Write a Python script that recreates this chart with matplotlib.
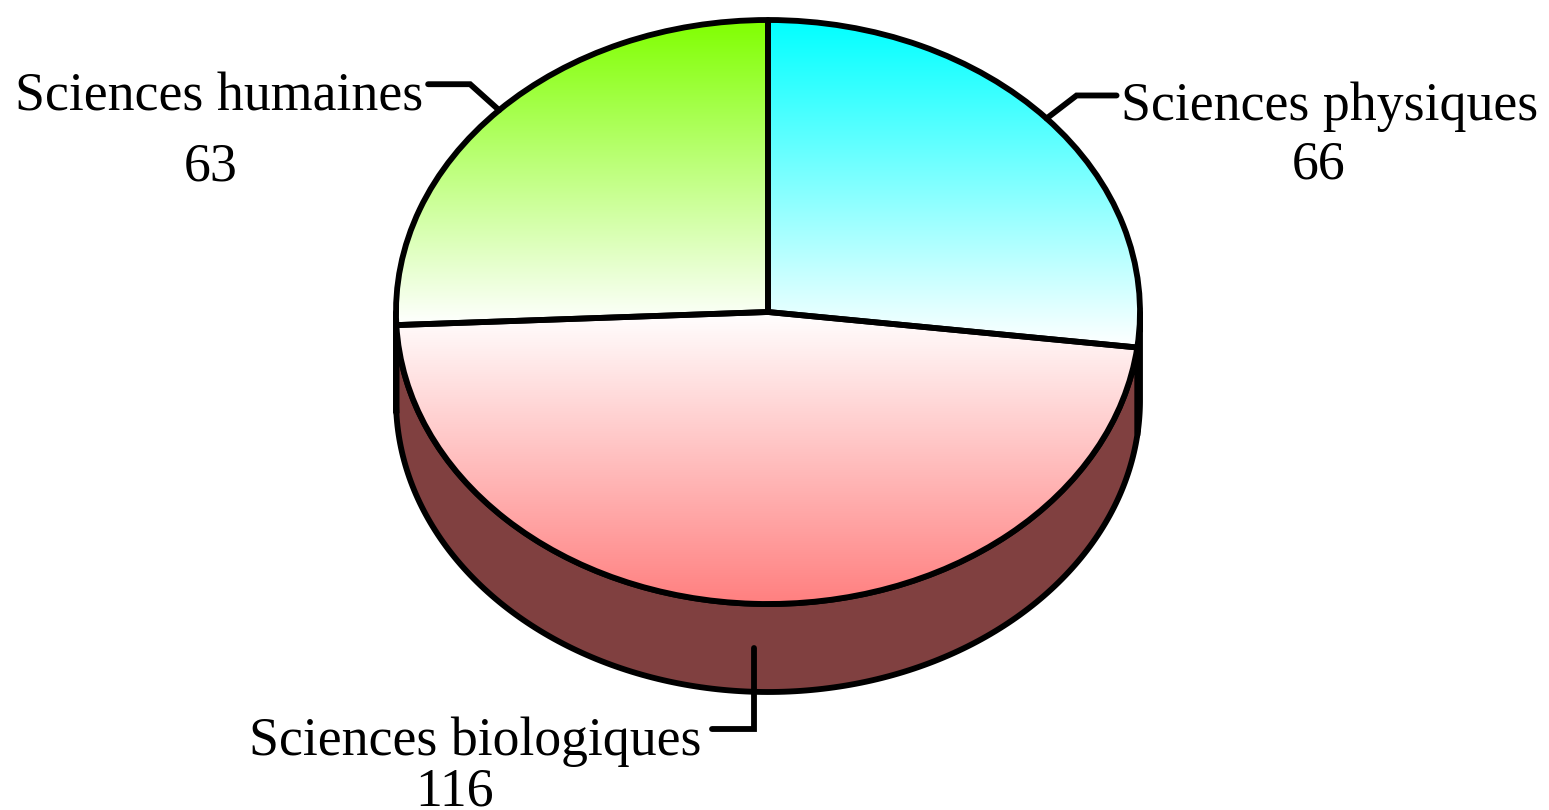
import matplotlib
matplotlib.use("Agg")
import matplotlib.pyplot as plt
import numpy as np
from matplotlib.patches import Wedge, Polygon

# data
categories = ['Sciences physiques', 'Sciences biologiques', 'Sciences humaines']
values = [66, 116, 63]
top_colors = [(0.0, 1.0, 1.0), (1.0, 1.0, 1.0), (0.5, 1.0, 0.0)]
bottom_colors = [(1.0, 1.0, 1.0), (1.0, 0.5, 0.5), (1.0, 1.0, 1.0)]
side_colors = [(0.0, 0.5, 0.5), (0.5, 0.25, 0.25), (0.25, 0.5, 0.0)]

W, H = 1549, 810
cx, cy, rx, ry = 768, 312, 372, 292   # pie centre / radii in pixels
depth = 88 / ry
LW = 4.2
FS = 38.7
FONT = 'Liberation Serif'

fig = plt.figure(figsize=(W / 100, H / 100), dpi=100)
ax = fig.add_axes([0, 0, 1, 1])
ax.set_xlim(-cx / rx, (W - cx) / rx)
ax.set_ylim(-(H - cy) / ry, cy / ry)
ax.axis('off')


def px(x, y):
    # pixel -> data units of the unit pie
    return (x - cx) / rx, (cy - y) / ry


total = float(sum(values))
ends = 90 - np.cumsum(values) / total * 360
starts = np.concatenate([[90], ends[:-1]])

# side band (only the front half is visible)
for i in range(len(values)):
    a = max(ends[i], -180)
    b = min(starts[i], 0)
    if b <= a:
        continue
    t = np.radians(np.linspace(a, b, 200))
    top = np.column_stack([np.cos(t), np.sin(t)])
    bot = np.column_stack([np.cos(t), np.sin(t) - depth])[::-1]
    ax.add_patch(Polygon(np.vstack([top, bot]), closed=True, facecolor=side_colors[i],
                         edgecolor='black', lw=LW, joinstyle='round', zorder=1))

# top face with vertical gradients
for i in range(len(values)):
    w = Wedge((0, 0), 1, ends[i], starts[i], facecolor='none', edgecolor='black',
              lw=LW, joinstyle='round', zorder=3)
    ax.add_patch(w)
    t = np.radians(np.linspace(ends[i], starts[i], 400))
    xs = np.concatenate([np.cos(t), [0]])
    ys = np.concatenate([np.sin(t), [0]])
    k = np.linspace(0, 1, 256)[:, None]
    grad = (1 - k) * np.array(top_colors[i]) + k * np.array(bottom_colors[i])
    img = np.repeat(grad[:, None, :], 2, axis=1)
    im = ax.imshow(img, extent=(xs.min(), xs.max(), ys.min(), ys.max()),
                   origin='upper', aspect='auto', interpolation='bilinear', zorder=2)
    im.set_clip_path(w)

# leader lines and labels
mid = np.radians((starts + ends) / 2)
# (elbow dx, dy, end dx) in pixels from the anchor, label centre x / baseline y, value centre x / baseline y
layout = [
    dict(elbow=(30, -23), end=70, name=(1330, 120), val=(1319, 178)),
    dict(elbow=(0, 81), end=-42, name=(475, 755), val=(455, 806)),
    dict(elbow=(-29, -26), end=-71, name=(219, 110), val=(211, 180)),
]
for i, lay in enumerate(layout):
    axp = cx + rx * np.cos(mid[i])
    ayp = cy - ry * np.sin(mid[i])
    if np.sin(mid[i]) < -0.9:
        ayp += depth * ry / 2
    ex, ey = axp + lay['elbow'][0], ayp + lay['elbow'][1]
    pts = [px(axp, ayp), px(ex, ey), px(axp + lay['end'], ey)]
    ax.plot([p[0] for p in pts], [p[1] for p in pts], color='black', lw=LW,
            solid_joinstyle='miter', solid_capstyle='round', zorder=4)
    ax.text(*px(*lay['name']), categories[i], ha='center', va='baseline',
            fontsize=FS, family=FONT, zorder=5)
    ax.text(*px(*lay['val']), str(values[i]), ha='center', va='baseline',
            fontsize=FS, family=FONT, zorder=5)

fig.savefig('out.png', dpi=100)
